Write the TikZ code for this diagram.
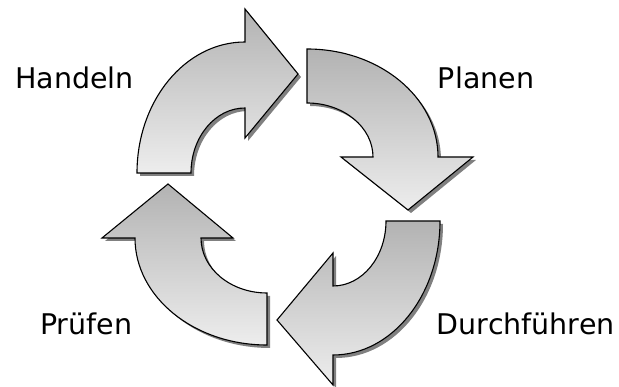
\documentclass[tikz,border=0pt]{standalone}
\usepackage{fontspec}
\setmainfont{DejaVu Sans}
\begin{document}
\begin{tikzpicture}[x=1pt,y=1pt,
  arrowbody/.style={draw=black,line width=1.1pt,line join=miter,top color=black!30,bottom color=black!7},
  arrowshadow/.style={fill=black!50,draw=none},
  lbl/.style={anchor=base west,inner sep=0pt,font=\fontsize{28.5}{34}\selectfont}]
\useasboundingbox (0,0) rectangle (619,387);
\newcommand\pathHandeln{(137,214) arc[start angle=180,end angle=90,x radius=108pt,y radius=131pt]
  -- (245,378) -- (298,313) -- (245,249) -- (245,279)
  arc[start angle=90,end angle=180,x radius=54pt,y radius=65pt] -- cycle}
\newcommand\pathPlanen{(307,338) arc[start angle=90,end angle=0,x radius=131pt,y radius=108pt]
  -- (473,230) -- (408,177) -- (341,230) -- (373,230)
  arc[start angle=0,end angle=90,x radius=66pt,y radius=54pt] -- cycle}
\newcommand\pathDurch{(440,166) arc[start angle=0,end angle=-90,x radius=107pt,y radius=134pt]
  -- (333,2) -- (277,67) -- (333,134) -- (333,101)
  arc[start angle=-90,end angle=0,x radius=53pt,y radius=65pt] -- cycle}
\newcommand\pathPruefen{(267,42) arc[start angle=-90,end angle=-180,x radius=132pt,y radius=107pt]
  -- (102,149) -- (168,203) -- (233,149) -- (201,149)
  arc[start angle=180,end angle=270,x radius=66pt,y radius=55pt] -- cycle}
\foreach \p in {\pathHandeln,\pathPlanen,\pathDurch,\pathPruefen}{
  \path[arrowshadow,shift={(3,-3)}] \p;
}
\path[arrowbody] \pathHandeln;
\path[arrowbody] \pathPlanen;
\path[arrowbody] \pathDurch;
\path[arrowbody] \pathPruefen;
\node[lbl] (handeln) at (15,298.7) {Handeln};
\node[lbl] (planen) at (437.7,298.7) {Planen};
\node[lbl] (durch) at (436.7,52) {Durchführen};
\node[lbl] (pruefen) at (40,52) {Prüfen};
\end{tikzpicture}
\end{document}
